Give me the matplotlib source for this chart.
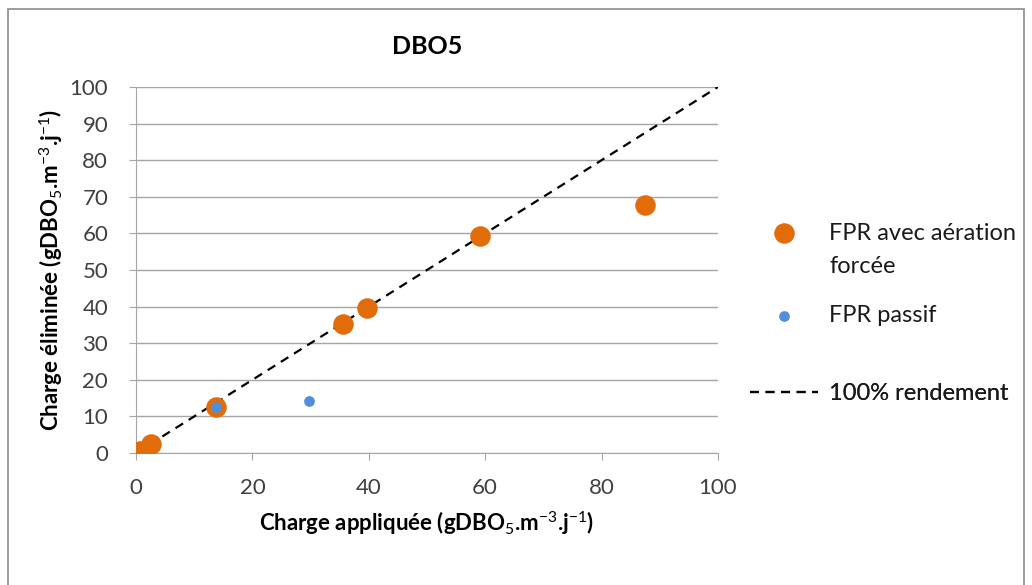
import numpy as np
import matplotlib
matplotlib.use("Agg")
import matplotlib.pyplot as plt
from matplotlib.patches import Rectangle

# data
force_x = [0.7, 2.5, 13.7, 35.6, 39.7, 59.1, 87.5]
force_y = [0.6, 2.6, 12.6, 35.2, 39.6, 59.2, 67.7]
passif_x = [13.7, 29.7]
passif_y = [12.6, 14.2]
ref_line = [0, 100]

plt.rcParams['font.family'] = ['Lato', 'DejaVu Sans']
plt.rcParams['mathtext.fontset'] = 'custom'
plt.rcParams['mathtext.rm'] = 'Lato'
plt.rcParams['mathtext.bf'] = 'Lato:bold'

fig = plt.figure(figsize=(10.32, 5.85), dpi=100)
ax = fig.add_axes([0.1318, 0.2256, 0.5639, 0.6257])

line = ax.plot(ref_line, ref_line, '--', color='black', lw=1.6, dashes=(4, 3),
               label='100% rendement', zorder=2)[0]
sc1 = ax.scatter(force_x, force_y, s=190, color='#E36C0A',
                 label='FPR avec aération\nforcée', zorder=3)
sc2 = ax.scatter(passif_x, passif_y, s=45, color='#4F8FD9',
                 label='FPR passif', zorder=4)

ax.set_xlim(0, 100)
ax.set_ylim(0, 100)
ax.set_xticks(np.arange(0, 101, 20))
ax.set_yticks(np.arange(0, 101, 10))
ax.yaxis.grid(True, color='#a6a6a6', lw=1)
ax.set_axisbelow(True)
for s in ['top', 'right']:
    ax.spines[s].set_visible(False)
for s in ['left', 'bottom']:
    ax.spines[s].set_color('#a6a6a6')
ax.tick_params(colors='#a6a6a6', labelcolor='#404040', labelsize=16, length=5)
ax.tick_params(axis='y', pad=15)
ax.tick_params(axis='x', pad=13)

ax.set_xlabel(r'Charge appliquée (gDBO$_5$.m$^{-3}$.j$^{-1}$)',
              fontsize=16, fontweight='bold', labelpad=8)
ax.set_ylabel(r'Charge éliminée (gDBO$_5$.m$^{-3}$.j$^{-1}$)',
              fontsize=16, fontweight='bold', labelpad=3)
ax.set_title('DBO5', fontsize=18, fontweight='bold', pad=24)

# one legend per entry, stacked like the original
entries = [(sc1, 1 - 250 / 585), (sc2, 1 - 316 / 585), (line, 1 - 394 / 585)]
for art, ypos in entries:
    leg = ax.legend([art], [art.get_label()], loc='center left',
                    bbox_to_anchor=(0.7267, ypos), bbox_transform=fig.transFigure,
                    frameon=False, fontsize=17, borderpad=0, borderaxespad=0,
                    handlelength=2.9, handletextpad=0.45)
    for t in leg.get_texts():
        t.set_linespacing(1.75)
        t.set_color('#1a1a1a')
    for col in leg._legend_handle_box.get_children():
        for row in col.get_children():
            row.align = 'top'
    ax.add_artist(leg)

fig.patches.append(Rectangle((0.008, -0.1), 0.984, 1.085, transform=fig.transFigure,
                             fill=False, edgecolor='#8c8c8c', lw=1.2))

fig.savefig('out.png', dpi=100)
